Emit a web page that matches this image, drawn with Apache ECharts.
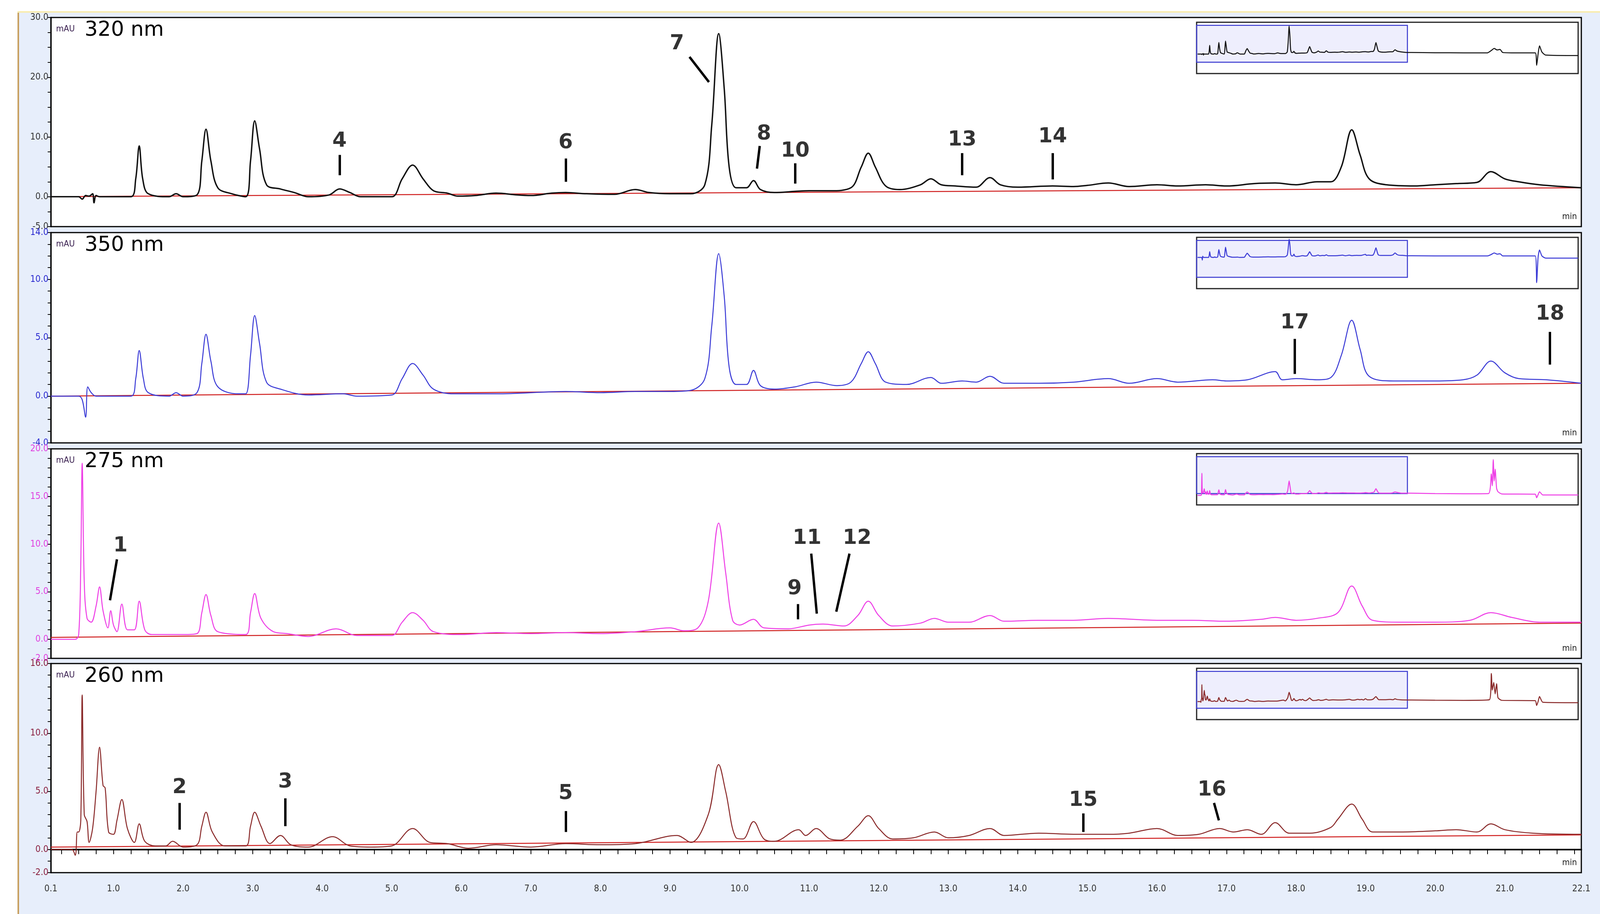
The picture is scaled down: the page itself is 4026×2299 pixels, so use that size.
<!DOCTYPE html>
<html><head><meta charset="utf-8">
<script src="https://cdn.jsdelivr.net/npm/echarts@6/dist/echarts.min.js"></script>
<style>html,body{margin:0;padding:0;background:#fff}#c{width:4026px;height:2299px}</style>
</head><body><div id="c"></div>
<script>
// ---- data (retention time min, absorbance mAU) ----
const wavelengths = ["320 nm","350 nm","275 nm","260 nm"];
const trace320 = [[0.1,0],[0.5,0],[0.55,-0.4],[0.6,0.2],[0.65,0.1],[0.7,0.5],[0.72,-1],[0.75,0.2],[0.8,0],[1.25,0],[1.32,3],[1.37,8.5],[1.42,3],[1.5,0.5],[1.8,0],[1.9,0.5],[2.0,0],[2.2,0.3],[2.27,6],[2.33,11.3],[2.4,6],[2.5,1.5],[2.7,0.5],[2.9,0],[2.97,6],[3.03,12.7],[3.1,8],[3.2,2],[3.4,1.3],[3.6,0.7],[3.8,0],[4.1,0.3],[4.25,1.3],[4.4,0.7],[4.55,0],[5.0,0],[5.15,3],[5.3,5.3],[5.45,3],[5.6,1],[5.8,0.6],[5.95,0.1],[6.2,0.2],[6.5,0.6],[6.8,0.3],[7.0,0.2],[7.3,0.6],[7.5,0.7],[7.8,0.5],[8.2,0.4],[8.5,1.2],[8.7,0.7],[9.0,0.5],[9.3,0.5],[9.5,2],[9.6,12],[9.7,27.3],[9.78,18],[9.85,5],[9.95,1.5],[10.1,1.5],[10.2,2.7],[10.3,1.2],[10.5,0.7],[10.8,0.9],[11.0,1],[11.3,1],[11.6,1.5],[11.75,5],[11.85,7.3],[11.95,5],[12.1,1.8],[12.3,1.2],[12.6,2],[12.75,3],[12.9,2],[13.1,1.8],[13.4,1.6],[13.6,3.2],[13.75,2],[14.0,1.6],[14.5,1.8],[14.8,1.7],[15.0,1.9],[15.3,2.3],[15.6,1.7],[16.0,2],[16.3,1.8],[16.7,2],[17.0,1.8],[17.4,2.2],[17.7,2.3],[18.0,2],[18.3,2.5],[18.5,2.5],[18.65,5],[18.8,11.2],[18.92,7],[19.05,3],[19.3,2],[19.7,1.8],[20.0,2],[20.3,2.2],[20.6,2.4],[20.8,4.2],[21.0,3],[21.2,2.5],[21.5,2],[22.1,1.5]];
const trace350 = [[0.1,0],[0.5,0],[0.55,-0.3],[0.6,-1.8],[0.63,0.8],[0.68,0.3],[0.75,0],[1.25,0],[1.32,1.5],[1.37,3.9],[1.43,1.5],[1.5,0.3],[1.8,0],[1.9,0.3],[2.0,0],[2.2,0.3],[2.27,2.8],[2.33,5.3],[2.4,3],[2.5,0.8],[2.8,0.2],[2.9,0.2],[2.97,3.5],[3.03,6.9],[3.1,4.5],[3.2,1.2],[3.4,0.6],[3.8,0.1],[4.3,0.2],[4.5,0],[5.0,0.1],[5.15,1.5],[5.3,2.8],[5.45,1.8],[5.6,0.6],[5.9,0.2],[6.5,0.2],[7.5,0.4],[8.0,0.3],[8.5,0.4],[9.0,0.4],[9.3,0.5],[9.5,1.5],[9.6,6],[9.7,12.2],[9.78,8.5],[9.85,2.5],[9.95,1],[10.1,1],[10.2,2.2],[10.3,0.9],[10.5,0.6],[10.8,0.8],[11.1,1.2],[11.4,0.9],[11.6,1.2],[11.75,2.8],[11.85,3.8],[11.95,2.8],[12.1,1.2],[12.4,1],[12.75,1.6],[12.9,1.1],[13.2,1.3],[13.4,1.2],[13.6,1.7],[13.8,1.1],[14.3,1.1],[14.8,1.2],[15.3,1.5],[15.6,1.1],[16.0,1.5],[16.3,1.2],[16.8,1.4],[17.0,1.3],[17.3,1.4],[17.7,2.1],[17.8,1.4],[18.0,1.5],[18.3,1.4],[18.5,1.6],[18.65,3.5],[18.8,6.5],[18.92,4],[19.05,1.7],[19.4,1.3],[20.0,1.3],[20.4,1.4],[20.6,1.8],[20.8,3],[21.0,2],[21.2,1.5],[21.6,1.4],[22.1,1.1]];
const trace275 = [[0.1,0],[0.45,0],[0.5,0.5],[0.53,8],[0.55,18.5],[0.58,6],[0.62,2.2],[0.68,1.8],[0.75,3.5],[0.8,5.5],[0.85,3],[0.92,1.2],[0.96,3],[1.0,1.5],[1.05,0.8],[1.12,3.7],[1.2,1],[1.3,1],[1.37,4],[1.45,1],[1.55,0.5],[2.0,0.5],[2.2,0.6],[2.27,2.8],[2.33,4.7],[2.4,2.5],[2.5,0.8],[2.9,0.5],[2.97,2.8],[3.03,4.8],[3.12,2.2],[3.3,0.8],[3.5,0.6],[3.8,0.3],[4.2,1.1],[4.5,0.4],[5.0,0.4],[5.15,1.8],[5.3,2.8],[5.45,2],[5.6,0.8],[6.0,0.5],[6.5,0.7],[7.0,0.6],[7.5,0.7],[8.0,0.6],[8.5,0.8],[9.0,1.2],[9.2,0.9],[9.4,1.2],[9.55,4],[9.7,12.2],[9.8,7],[9.9,2],[10.0,1.5],[10.2,2.1],[10.35,1.2],[10.7,1.1],[11.0,1.5],[11.2,1.6],[11.5,1.4],[11.7,2.5],[11.85,4],[12.0,2.5],[12.2,1.4],[12.6,1.7],[12.8,2.2],[13.0,1.8],[13.3,1.8],[13.6,2.5],[13.8,1.9],[14.3,2],[14.8,2],[15.3,2.2],[16.0,2],[16.5,2],[17.0,1.9],[17.5,2.1],[17.7,2.3],[18.0,2],[18.3,2.2],[18.6,2.8],[18.8,5.6],[18.95,3.5],[19.1,2],[19.5,1.8],[20.0,1.8],[20.5,2],[20.8,2.8],[21.1,2.3],[21.5,1.8],[22.1,1.8]];
const trace260 = [[0.1,0],[0.4,0],[0.45,-0.5],[0.48,1.5],[0.5,1.5],[0.53,2.5],[0.55,13.3],[0.58,3],[0.62,2.4],[0.65,0.6],[0.7,1.8],[0.75,5],[0.8,8.8],[0.85,5.5],[0.88,5.3],[0.93,1.5],[1.0,1.3],[1.05,2.5],[1.12,4.3],[1.2,1.8],[1.3,0.6],[1.37,2.2],[1.45,0.7],[1.6,0.3],[1.75,0.3],[1.85,0.7],[2.0,0.2],[2.2,0.4],[2.27,2],[2.33,3.2],[2.42,1.5],[2.6,0.3],[2.9,0.3],[2.97,2],[3.03,3.2],[3.12,2],[3.25,0.5],[3.4,1.2],[3.55,0.4],[3.8,0.2],[4.15,1.1],[4.4,0.3],[4.7,0.2],[5.0,0.3],[5.3,1.8],[5.55,0.6],[5.8,0.5],[6.1,0.1],[6.5,0.4],[7.0,0.2],[7.5,0.5],[8.0,0.4],[8.5,0.5],[9.1,1.2],[9.3,0.6],[9.55,3],[9.7,7.3],[9.8,5],[9.95,1],[10.05,0.9],[10.2,2.4],[10.35,0.9],[10.5,0.7],[10.85,1.7],[10.95,1.2],[11.1,1.8],[11.3,0.9],[11.45,0.8],[11.7,2],[11.85,2.9],[12.0,1.8],[12.2,0.9],[12.5,1],[12.8,1.5],[13.0,1],[13.3,1.2],[13.6,1.8],[13.8,1.2],[14.3,1.4],[14.8,1.3],[15.3,1.3],[15.6,1.4],[16.0,1.8],[16.3,1.2],[16.6,1.3],[16.9,1.8],[17.1,1.5],[17.3,1.7],[17.5,1.3],[17.7,2.3],[17.9,1.4],[18.2,1.4],[18.5,1.9],[18.6,2.6],[18.8,3.9],[18.95,2.6],[19.1,1.5],[19.5,1.5],[20.0,1.6],[20.3,1.7],[20.6,1.5],[20.8,2.2],[21.0,1.7],[21.4,1.4],[22.1,1.3]];
// rest of the run, shown only in the overview insets
const tail320 = [[22.5,1.5],[25,1.3],[28,1.2],[30.5,1.2],[30.9,3.5],[31.2,5.5],[31.5,4],[31.8,4.5],[32.1,1.5],[33,1.2],[35.5,1.2],[35.65,-11],[35.8,0],[35.95,8],[36.2,2],[36.6,-1],[40,-1.5]];
const tail350 = [[22.5,1.1],[25,1],[28,1],[30.5,1],[30.9,2],[31.2,3],[31.5,2.2],[31.8,2.5],[32.1,1],[33,1],[35.5,1],[35.65,-17],[35.8,0],[35.95,5],[36.2,1],[36.6,-0.5],[40,-0.5]];
const tail275 = [[22.5,1.8],[25,1.5],[28,1.3],[30.6,1.5],[30.9,18],[31.0,8],[31.1,30],[31.2,12],[31.3,22],[31.45,6],[31.6,3],[32,1.2],[35.5,1],[35.65,-2],[35.8,0.5],[35.95,3],[36.3,0.3],[40,0.3]];
const tail260 = [[22.5,1.3],[25,1.1],[28,1],[30.7,1.5],[30.9,22],[31.0,9],[31.15,15],[31.3,6],[31.45,14],[31.6,3],[32,1],[35.5,0.8],[35.65,-3],[35.8,0],[35.95,4],[36.3,-0.5],[40,-0.8]];
// integration baselines
const base320 = [[0.1,0],[22.1,1.5]];
const base350 = [[0.1,0],[22.1,1.1]];
const base275 = [[0.1,0.2],[22.1,1.7]];
const base260 = [[0.1,0.2],[22.1,1.25]];
// y-axis ranges
const yRange = [[-5,30],[-4,14],[-2,20],[-2,16]];
const yTickStep = [2.5,1,1,1];
const yLabelStep = [10,5,5,5];
const insetRange = [[-19,31],[-21,13.5],[-8,35],[-14,26]];
// x-axis labels
const xLabels = [0.1,1,2,3,4,5,6,7,8,9,10,11,12,13,14,15,16,17,18,19,20,21,22.1];
// peak annotations: [label, textX, textY, lineX1, lineY1, lineX2, lineY2]
const ann320 = [["4",4.25,9.3,4.25,7,4.25,3.6],["6",7.5,9,7.5,6.4,7.5,2.5],["7",9.1,25.6,9.28,23.4,9.56,19.2],["8",10.35,10.5,10.29,8.5,10.25,4.7],["10",10.8,7.6,10.8,5.6,10.8,2.2],["13",13.2,9.5,13.2,7.3,13.2,3.6],["14",14.5,10,14.5,7.3,14.5,2.9]];
const ann350 = [["17",17.98,6.25,17.98,4.9,17.98,1.9],["18",21.65,7,21.65,5.5,21.65,2.7]];
const ann275 = [["1",1.1,9.8,1.05,8.4,0.95,4.1],["9",10.79,5.3,10.84,3.7,10.84,2.1],["11",10.97,10.6,11.03,9,11.11,2.7],["12",11.69,10.6,11.58,9,11.39,2.9]];
const ann260 = [["2",1.95,5.3,1.95,4,1.95,1.7],["3",3.47,5.8,3.47,4.4,3.47,2],["5",7.5,4.8,7.5,3.3,7.5,1.5],["15",14.94,4.2,14.94,3.1,14.94,1.5],["16",16.79,5.1,16.82,4,16.89,2.5]];

const traces=[trace320,trace350,trace275,trace260];
const tails=[tail320,tail350,tail275,tail260];
const bases=[base320,base350,base275,base260];
const anns=[ann320,ann350,ann275,ann260];
const colors=['#111111','#3b3bd6','#ee3fe6','#8a2a2a'];
const tickColors=['#333333','#2a2ad0','#e040e0','#8a2040'];
const tops=[44,585,1129,1669], heights=[526,529,527,526];
const L=128, W=3851;
const NF='"DejaVu Sans Condensed","DejaVu Sans"';

const grids=[],xAxes=[],yAxes=[],series=[],graphics=[];
graphics.push({type:'rect',shape:{x:44,y:30,width:3982,height:2269},style:{fill:'#e7eefb'},z:-10});
graphics.push({type:'rect',shape:{x:44,y:30,width:4,height:2269},style:{fill:'#c8a060'},z:-9});
graphics.push({type:'rect',shape:{x:44,y:28,width:3982,height:4},style:{fill:'#f8ecb0'},z:-9});
const xt=[0.1];for(let k=1;k<=88;k++)xt.push(+(k*0.25).toFixed(2));xt.push(22.1);
for(let i=0;i<4;i++){
  const last=i===3;
  const [mn,mx]=yRange[i];
  grids.push({left:L,width:W,top:tops[i],height:heights[i],show:true,backgroundColor:'#fff',borderColor:'#000',borderWidth:3});
  xAxes.push({gridIndex:grids.length-1,type:'value',min:0.1,max:22.1,position:'bottom',offset:last?14:0,
    axisLine:{show:last,lineStyle:{color:'#000',width:4}},
    axisTick:{show:last,length:12,lineStyle:{color:'#000',width:2},customValues:xt},
    axisLabel:{show:last,customValues:xLabels,formatter:v=>v.toFixed(1),fontFamily:NF,fontSize:23,color:'#333',margin:16},
    splitLine:{show:false}});
  yAxes.push({gridIndex:grids.length-1,type:'value',min:mn,max:mx,interval:yTickStep[i],
    axisLine:{show:true,lineStyle:{color:'#000',width:3}},
    axisTick:{show:true,length:8,lineStyle:{color:'#000',width:2}},
    axisLabel:{fontFamily:NF,fontSize:23,color:tickColors[i],margin:6,showMinLabel:true,showMaxLabel:true,
      formatter:v=>{const s=yLabelStep[i];if(Math.abs(v-mn)<1e-6||Math.abs(v-mx)<1e-6)return v.toFixed(1);if(Math.abs(v/s-Math.round(v/s))<1e-6&&mx-v>=s/2)return v.toFixed(1);return '';}},
    splitLine:{show:false}});
  const [imn,imx]=insetRange[i];
  grids.push({left:3011,width:960,top:tops[i]+12,height:129,show:true,backgroundColor:'#fff',borderColor:'#222',borderWidth:3});
  xAxes.push({gridIndex:grids.length-1,type:'value',min:0,max:40,show:false});
  yAxes.push({gridIndex:grids.length-1,type:'value',min:imn,max:imx,show:false});
}
for(let i=0;i<4;i++){
  const mi=2*i, ii=2*i+1;
  series.push({type:'line',xAxisIndex:mi,yAxisIndex:mi,data:bases[i],symbol:'none',lineStyle:{color:'#d02020',width:2.5},z:2,silent:true});
  series.push({type:'line',xAxisIndex:mi,yAxisIndex:mi,data:traces[i],symbol:'none',smooth:0.35,lineStyle:{color:colors[i],width:i===0?3.5:2.5},z:3,
    markLine:{silent:true,symbol:'none',lineStyle:{color:'#000',width:6,type:'solid'},label:{show:false},
      data:anns[i].map(a=>[{coord:[a[3],a[4]]},{coord:[a[5],a[6]]}])}});
  series.push({type:'scatter',xAxisIndex:mi,yAxisIndex:mi,symbolSize:0,data:anns[i].map(a=>[a[1],a[2],a[0]]),z:5,
    label:{show:true,position:'inside',formatter:p=>p.value[2],fontFamily:'DejaVu Sans',fontWeight:'bold',fontSize:52,color:'#000'}});
  const [imn,imx]=insetRange[i];
  series.push({type:'line',xAxisIndex:ii,yAxisIndex:ii,data:traces[i].concat(tails[i]),symbol:'none',smooth:0.2,lineStyle:{color:colors[i],width:2.5},z:3,
    markArea:{silent:true,itemStyle:{color:'rgba(205,205,250,0.35)',borderColor:'#3a3ad0',borderWidth:2.5},
      data:[[{coord:[0,imx-(imx-imn)*0.06]},{coord:[22.1,imn+(imx-imn)*0.22]}]]}});
  graphics.push({type:'text',left:141,top:tops[i]+18,style:{text:'mAU',font:'22px '+NF,fill:'#3a2050'}});
  graphics.push({type:'text',left:213,top:tops[i]+6,style:{text:wavelengths[i],font:'52px "DejaVu Sans"',fill:'#000'}});
  graphics.push({type:'text',right:4026-3968,top:tops[i]+heights[i]-36,style:{text:'min',font:'22px '+NF,fill:'#222',align:'right'}});
}
const chart=echarts.init(document.getElementById('c'));
chart.setOption({animation:false,backgroundColor:'#fff',grid:grids,xAxis:xAxes,yAxis:yAxes,series:series,graphic:graphics});
</script></body></html>
